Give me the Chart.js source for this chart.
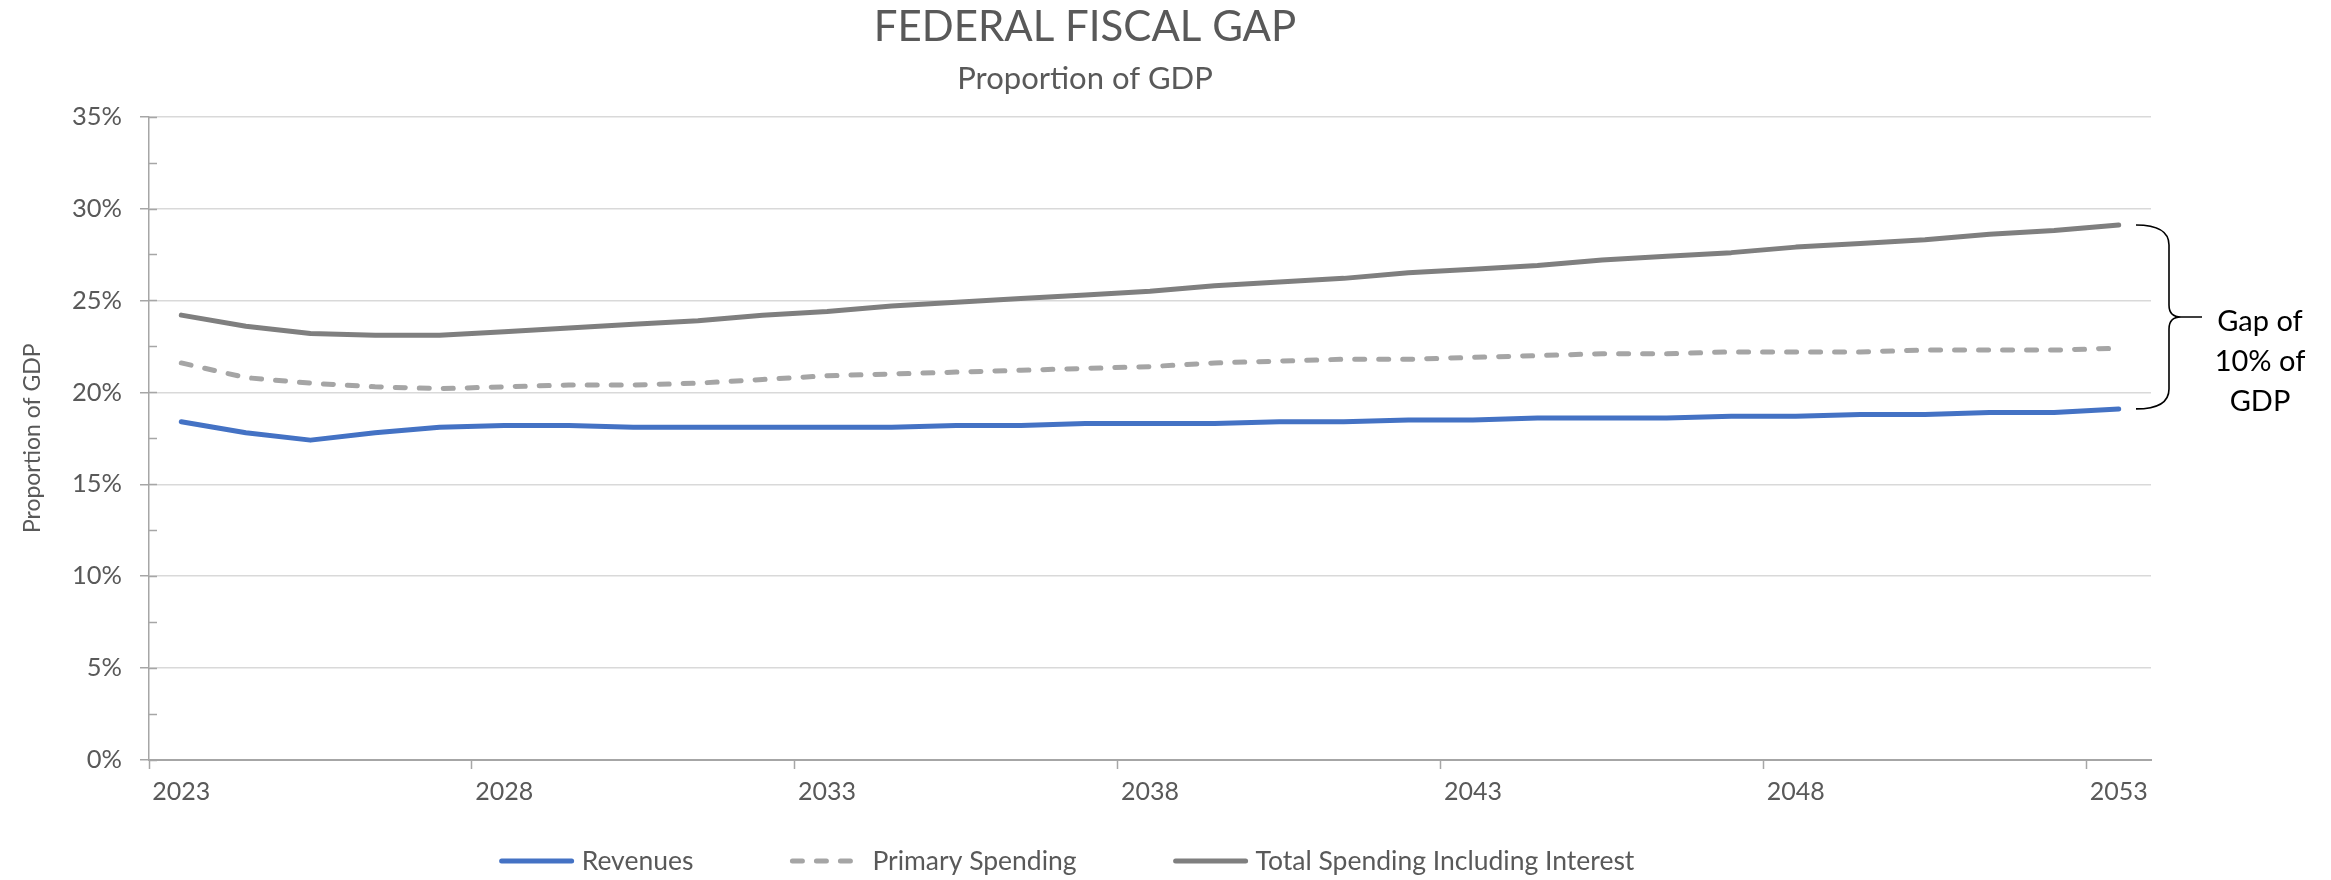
<!DOCTYPE html>
<html>
<head>
<meta charset="utf-8">
<title>Federal Fiscal Gap</title>
<script src="https://cdn.jsdelivr.net/npm/chart.js@4.4.1/dist/chart.umd.min.js"></script>
<style>
  body { margin: 0; background: #ffffff; }
  canvas { display: block; }
</style>
</head>
<body>
<canvas id="grafico" width="2331" height="880"></canvas>
<script>
// values (percent of GDP)
var years = ['2023','2024','2025','2026','2027','2028','2029','2030','2031','2032',
             '2033','2034','2035','2036','2037','2038','2039','2040','2041','2042',
             '2043','2044','2045','2046','2047','2048','2049','2050','2051','2052','2053'];
var shownYears = ['2023','2028','2033','2038','2043','2048','2053'];
var revenues = [18.4, 17.8, 17.4, 17.8, 18.1, 18.2, 18.2, 18.1, 18.1, 18.1,
                18.1, 18.1, 18.2, 18.2, 18.3, 18.3, 18.3, 18.4, 18.4, 18.5,
                18.5, 18.6, 18.6, 18.6, 18.7, 18.7, 18.8, 18.8, 18.9, 18.9, 19.1];
var primarySpending = [21.6, 20.8, 20.5, 20.3, 20.2, 20.3, 20.4, 20.4, 20.5, 20.7,
                       20.9, 21.0, 21.1, 21.2, 21.3, 21.4, 21.6, 21.7, 21.8, 21.8,
                       21.9, 22.0, 22.1, 22.1, 22.2, 22.2, 22.2, 22.3, 22.3, 22.3, 22.4];
var totalSpending = [24.2, 23.6, 23.2, 23.1, 23.1, 23.3, 23.5, 23.7, 23.9, 24.2,
                     24.4, 24.7, 24.9, 25.1, 25.3, 25.5, 25.8, 26.0, 26.2, 26.5,
                     26.7, 26.9, 27.2, 27.4, 27.6, 27.9, 28.1, 28.3, 28.6, 28.8, 29.1];
var gapText = ['Gap of', '10% of', 'GDP'];

var textGray = '#595959';
var axisGray = '#a6a6a6';
var fontName = 'Lato, "Open Sans", sans-serif';

Chart.defaults.font.family = fontName;
Chart.defaults.color = textGray;

// small inside ticks on the value axis (every 2.5%)
var minorTicks = {
    id: 'minorTicks',
    afterDraw: function(chart) {
        var ctx = chart.ctx;
        var y = chart.scales.y;
        var a = chart.chartArea;
        ctx.save();
        ctx.strokeStyle = axisGray;
        ctx.lineWidth = 1.5;
        for (var v = y.min; v <= y.max; v += 2.5) {
            var py = Math.round(y.getPixelForValue(v)) + 0.5;
            ctx.beginPath();
            ctx.moveTo(a.left, py);
            ctx.lineTo(a.left + 8, py);
            ctx.stroke();
        }
        ctx.restore();
    }
};

// curly brace between the last total spending and revenue points
var gapBrace = {
    id: 'gapBrace',
    afterDraw: function(chart) {
        var ctx = chart.ctx;
        var y = chart.scales.y;
        var a = chart.chartArea;
        var top = y.getPixelForValue(totalSpending[totalSpending.length - 1]);
        var bot = y.getPixelForValue(revenues[revenues.length - 1]);
        var mid = (top + bot) / 2;
        var x0 = a.right - 15, x1 = x0 + 33, x2 = x1 + 33, r = 20;
        ctx.save();
        ctx.strokeStyle = '#000000';
        ctx.lineWidth = 1.6;
        ctx.beginPath();
        ctx.moveTo(x0, top);
        ctx.quadraticCurveTo(x1, top, x1, top + r);
        ctx.lineTo(x1, mid - 12);
        ctx.quadraticCurveTo(x1, mid, x1 + 12, mid);
        ctx.lineTo(x2, mid);
        ctx.moveTo(x1 + 12, mid);
        ctx.quadraticCurveTo(x1, mid, x1, mid + 12);
        ctx.lineTo(x1, bot - r);
        ctx.quadraticCurveTo(x1, bot, x0, bot);
        ctx.stroke();
        ctx.fillStyle = '#000000';
        ctx.font = '29px ' + fontName;
        ctx.textAlign = 'center';
        ctx.textBaseline = 'middle';
        for (var i = 0; i < gapText.length; i++) {
            ctx.fillText(gapText[i], x2 + 58, mid + 5 + i * 40);
        }
        ctx.restore();
    }
};

// legend drawn as line samples, centred under the title
var lineLegend = {
    id: 'lineLegend',
    afterDraw: function(chart) {
        var ctx = chart.ctx;
        var sets = chart.data.datasets;
        var lineW = 74, textGap = 8, itemGap = 97;
        ctx.save();
        ctx.font = '26.5px ' + fontName;
        var total = 0;
        for (var i = 0; i < sets.length; i++) {
            total += lineW + textGap + ctx.measureText(sets[i].label).width;
        }
        total += itemGap * (sets.length - 1);
        var x = 1067 - total / 2;
        var yc = 861;
        for (var j = 0; j < sets.length; j++) {
            var ds = sets[j];
            ctx.strokeStyle = ds.borderColor;
            ctx.lineWidth = 5;
            ctx.lineCap = 'round';
            ctx.setLineDash(ds.borderDash || []);
            ctx.beginPath();
            ctx.moveTo(x + 2, yc);
            ctx.lineTo(x + lineW - 2, yc);
            ctx.stroke();
            ctx.setLineDash([]);
            ctx.fillStyle = textGray;
            ctx.textAlign = 'left';
            ctx.textBaseline = 'middle';
            ctx.fillText(ds.label, x + lineW + textGap, yc);
            x += lineW + textGap + ctx.measureText(ds.label).width + itemGap;
        }
        ctx.restore();
    }
};

var canvas = document.getElementById('grafico');
var graph = new Chart(canvas, {
    type: 'line',
    data: {
        labels: years,
        datasets: [{
            label: 'Revenues',
            data: revenues,
            borderColor: '#4472c4',
            backgroundColor: '#4472c4',
            borderWidth: 5,
            borderCapStyle: 'round',
            borderJoinStyle: 'round',
            pointRadius: 0,
            tension: 0
        }, {
            label: 'Primary Spending',
            data: primarySpending,
            borderColor: '#a5a5a5',
            backgroundColor: '#a5a5a5',
            borderWidth: 5,
            borderDash: [10, 14],
            borderCapStyle: 'round',
            borderJoinStyle: 'round',
            pointRadius: 0,
            tension: 0
        }, {
            label: 'Total Spending Including Interest',
            data: totalSpending,
            borderColor: '#7f7f7f',
            backgroundColor: '#7f7f7f',
            borderWidth: 5,
            borderCapStyle: 'round',
            borderJoinStyle: 'round',
            pointRadius: 0,
            tension: 0
        }]
    },
    options: {
        responsive: false,
        animation: false,
        layout: { padding: { left: 19, right: 180, top: 0, bottom: 60 } },
        plugins: {
            legend: { display: false },
            tooltip: { enabled: false },
            title: {
                display: true,
                text: 'FEDERAL FISCAL GAP',
                color: textGray,
                font: { size: 42, weight: 'normal' },
                padding: { top: 2, bottom: 4 }
            },
            subtitle: {
                display: true,
                text: 'Proportion of GDP',
                color: textGray,
                font: { size: 31, weight: 'normal' },
                padding: { top: 4, bottom: 19 }
            }
        },
        scales: {
            x: {
                offset: true,
                afterFit: function(scale) { scale.height = 60; },
                grid: {
                    offset: true,
                    drawOnChartArea: false,
                    tickLength: 9,
                    tickWidth: 1.5,
                    tickColor: function(ctx) {
                        return ctx.index % 5 === 0 && ctx.index < years.length ? axisGray : 'rgba(0,0,0,0)';
                    }
                },
                border: { color: axisGray, width: 2 },
                ticks: {
                    autoSkip: false,
                    maxRotation: 0,
                    padding: 8,
                    color: textGray,
                    font: { size: 25 },
                    callback: function(value, index) {
                        var lab = years[index];
                        return shownYears.indexOf(lab) >= 0 ? lab : '';
                    }
                }
            },
            y: {
                min: 0,
                max: 35,
                afterFit: function(scale) { scale.width = 130; },
                grid: {
                    color: '#d9d9d9',
                    lineWidth: 1.5,
                    tickLength: 9,
                    tickColor: axisGray,
                    tickWidth: 1.5
                },
                border: { color: axisGray, width: 1.5 },
                ticks: {
                    stepSize: 5,
                    padding: 18,
                    color: textGray,
                    font: { size: 25.5 },
                    callback: function(value) { return value + '%'; }
                },
                title: {
                    display: true,
                    text: 'Proportion of GDP',
                    color: textGray,
                    font: { size: 23 },
                    padding: 0
                }
            }
        }
    },
    plugins: [minorTicks, gapBrace, lineLegend]
});
</script>
</body>
</html>
